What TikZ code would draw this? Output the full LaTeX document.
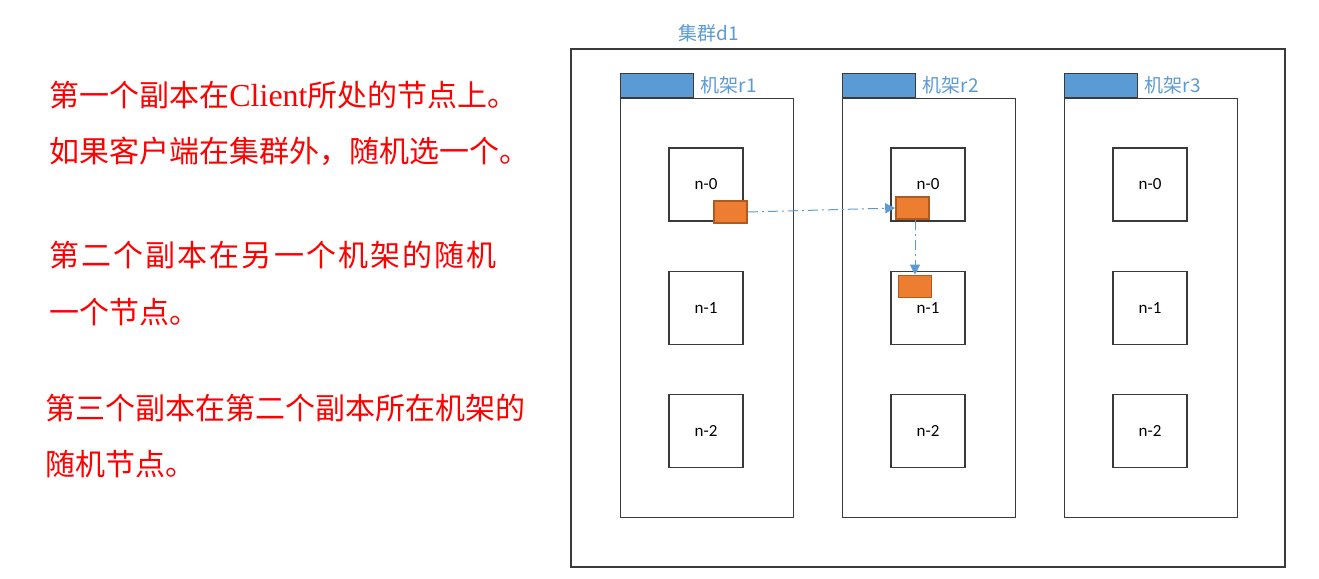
\documentclass[tikz,border=0pt]{standalone}
\usepackage{fontspec}
\usepackage{xcolor}
\usetikzlibrary{arrows.meta,positioning}
\setmainfont{Carlito}
\newfontfamily\cjk{Noto Sans CJK SC}
\newfontfamily\tnr{Liberation Serif}
\definecolor{hdblue}{HTML}{5B9BD5}
\definecolor{reporange}{HTML}{ED7D31}
\definecolor{repedge}{HTML}{AE5A21}
\definecolor{lineclr}{HTML}{3A3A3A}
\tikzset{
  rackbox/.style={draw=lineclr,line width=0.7pt,minimum width=86.5pt,minimum height=209.5pt,inner sep=0pt},
  rackhead/.style={draw=lineclr,line width=0.7pt,fill=hdblue,minimum width=36.5pt,minimum height=12pt,inner sep=0pt},
  nodebox/.style={draw=lineclr,line width=0.7pt,minimum width=37pt,minimum height=36.5pt,inner sep=0pt,font=\fontsize{8.5}{10}\selectfont},
  replica/.style={draw=repedge,line width=0.8pt,fill=reporange,minimum width=16.5pt,minimum height=11pt,inner sep=0pt},
  copyarrow/.style={hdblue,line width=0.5pt,dash pattern=on 5pt off 2pt on 1pt off 2pt,-{Triangle[length=5pt,width=5pt]}},
  bluelbl/.style={text=hdblue,font=\cjk\fontsize{9.5}{11}\selectfont,inner sep=0pt},
  redtxt/.style={text=red,font=\cjk\fontsize{15}{17}\selectfont,inner sep=0pt,anchor=base west}
}
\begin{document}
\begin{tikzpicture}[x=0.5pt,y=-0.5pt]
  \useasboundingbox (0,0) rectangle (1319,579);
  % left column text
  \node[redtxt] (t1a) at (49,106) {第一个副本在{\tnr\fontsize{16}{18}\selectfont Client}所处的节点上。};
  \node[redtxt] (t1b) at (49,162) {如果客户端在集群外，随机选一个。};
  \node[redtxt] (t2a) at (49,266) {\addfontfeature{LetterSpace=7}第二个副本在另一个机架的随机};
  \node[redtxt] (t2b) at (49,323) {一个节点。};
  \node[redtxt] (t3a) at (45,419) {第三个副本在第二个副本所在机架的};
  \node[redtxt] (t3b) at (45,475) {随机节点。};
  % cluster
  \draw[lineclr,line width=0.7pt] (571,49) rectangle (1285,567);
  \node[bluelbl] (cluster) at (709,33) {集群d1};
  % racks
  \foreach \r/\x in {1/620,2/842,3/1064}{
    \node[rackbox,anchor=north west] (rack\r) at (\x,98) {};
    \node[rackhead,anchor=south west] (head\r) at (\x,98) {};
    \node[bluelbl,anchor=west,right=3pt of head\r.east] (lbl\r) {机架r\r};
    \node[nodebox] (r\r n0) at (\x+86,184.5) {n-0};
    \node[nodebox] (r\r n1) at (\x+86,308) {n-1};
    \node[nodebox] (r\r n2) at (\x+86,431) {n-2};
  }
  % replicas
  \node[replica] (rep1) at (730.5,212) {};
  \node[replica] (rep2) at (912.5,208) {};
  \node[replica] (rep3) at (915,286.5) {};
  \draw[copyarrow] (rep1.east) -- (rep2.west);
  \draw[copyarrow] (rep2.south -| rep3.north) -- (rep3.north);
\end{tikzpicture}
\end{document}
